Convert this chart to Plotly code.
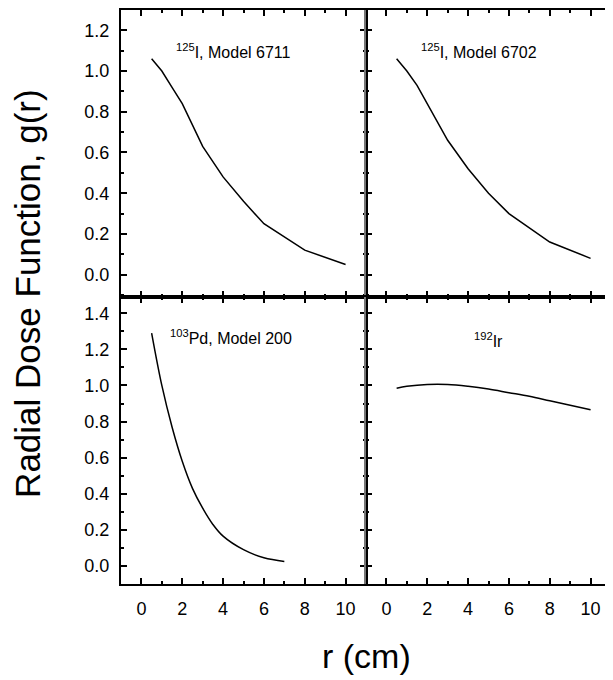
import plotly.graph_objects as go
from plotly.subplots import make_subplots

# radial distance (cm) and radial dose function g(r) for each source
r_6711 = [0.5, 1, 1.5, 2, 3, 4, 5, 6, 8, 10]
g_6711 = [1.06, 1.0, 0.92, 0.84, 0.63, 0.48, 0.36, 0.25, 0.12, 0.05]

r_6702 = [0.5, 1, 1.5, 2, 3, 4, 5, 6, 8, 10]
g_6702 = [1.06, 1.0, 0.93, 0.84, 0.66, 0.52, 0.40, 0.30, 0.16, 0.08]

r_pd = [0.5, 1, 1.5, 2, 2.5, 3, 3.5, 4, 5, 6, 7]
g_pd = [1.29, 1.0, 0.77, 0.58, 0.43, 0.32, 0.23, 0.165, 0.09, 0.045, 0.025]

r_ir = [0.5, 1, 2, 3, 4, 5, 6, 7, 8, 9, 10]
g_ir = [0.985, 0.995, 1.005, 1.005, 0.995, 0.98, 0.96, 0.94, 0.915, 0.89, 0.865]

labels = ["<sup>125</sup>I, Model 6711", "<sup>125</sup>I, Model 6702",
          "<sup>103</sup>Pd, Model 200", "<sup>192</sup>Ir"]
x_ticks = [0, 2, 4, 6, 8, 10]
y_ticks_top = [0.0, 0.2, 0.4, 0.6, 0.8, 1.0, 1.2]
y_ticks_bottom = [0.0, 0.2, 0.4, 0.6, 0.8, 1.0, 1.2, 1.4]

FONT = "Liberation Sans, Arial, sans-serif"

fig = make_subplots(rows=2, cols=2, horizontal_spacing=0, vertical_spacing=0)

line = dict(color="black", width=1.5)
fig.add_trace(go.Scatter(x=r_6711, y=g_6711, mode="lines", line=line), row=1, col=1)
fig.add_trace(go.Scatter(x=r_6702, y=g_6702, mode="lines", line=line), row=1, col=2)
fig.add_trace(go.Scatter(x=r_pd, y=g_pd, mode="lines", line=dict(line, shape="spline")), row=2, col=1)
fig.add_trace(go.Scatter(x=r_ir, y=g_ir, mode="lines", line=dict(line, shape="spline")), row=2, col=2)

# panel labels
pos = [(1.6, 1.10, "x", "y"), (1.6, 1.10, "x2", "y2"),
       (1.3, 1.27, "x3", "y3"), (4.2, 1.25, "x4", "y4")]
for (ax, ay, xr, yr), t in zip(pos, labels):
    fig.add_annotation(x=ax, y=ay, xref=xr, yref=yr, text=t, showarrow=False,
                       xanchor="left", font=dict(size=16, family=FONT, color="black"))

for row in (1, 2):
    for col in (1, 2):
        fig.update_xaxes(range=[-1, 11], tickvals=x_ticks, ticks="inside", ticklen=6,
                         tickwidth=1.5, tickcolor="black", showline=True, linecolor="black",
                         linewidth=2, mirror="allticks", showgrid=False, zeroline=False,
                         minor=dict(ticks="inside", ticklen=3, dtick=1, tickcolor="black"),
                         showticklabels=(row == 2), ticklabelstandoff=7,
                         tickfont=dict(size=18, family=FONT, color="black"),
                         row=row, col=col)
        fig.update_yaxes(range=[-0.11, 1.30] if row == 1 else [-0.10, 1.49],
                         tickvals=y_ticks_top if row == 1 else y_ticks_bottom,
                         tickformat=".1f", ticks="inside", ticklen=6, tickwidth=1.5,
                         tickcolor="black", showline=True,
                         linecolor="black" if col == 1 else "#777",
                         linewidth=2, mirror="allticks", showgrid=False, zeroline=False,
                         minor=dict(ticks="inside", ticklen=3, dtick=0.1, tickcolor="black"),
                         showticklabels=(col == 1), ticklabelstandoff=6,
                         tickfont=dict(size=18, family=FONT, color="black"),
                         row=row, col=col)

fig.add_annotation(x=-0.19, y=0.507, xref="paper", yref="paper", text="Radial Dose Function, g(r)",
                   textangle=-90, showarrow=False, xanchor="center", yanchor="middle",
                   font=dict(size=35, family=FONT, color="black"))
fig.add_annotation(x=0.5, y=-0.125, xref="paper", yref="paper", text="r (cm)",
                   showarrow=False, xanchor="center", yanchor="middle",
                   font=dict(size=34, family=FONT, color="black"))

# the page body adds an 8px margin, so the figure is 8px smaller each way
fig.update_layout(width=605, height=672, showlegend=False,
                  margin=dict(l=113, r=0, t=0, b=96),
                  paper_bgcolor="white", plot_bgcolor="white")

fig.write_html("out.html")
